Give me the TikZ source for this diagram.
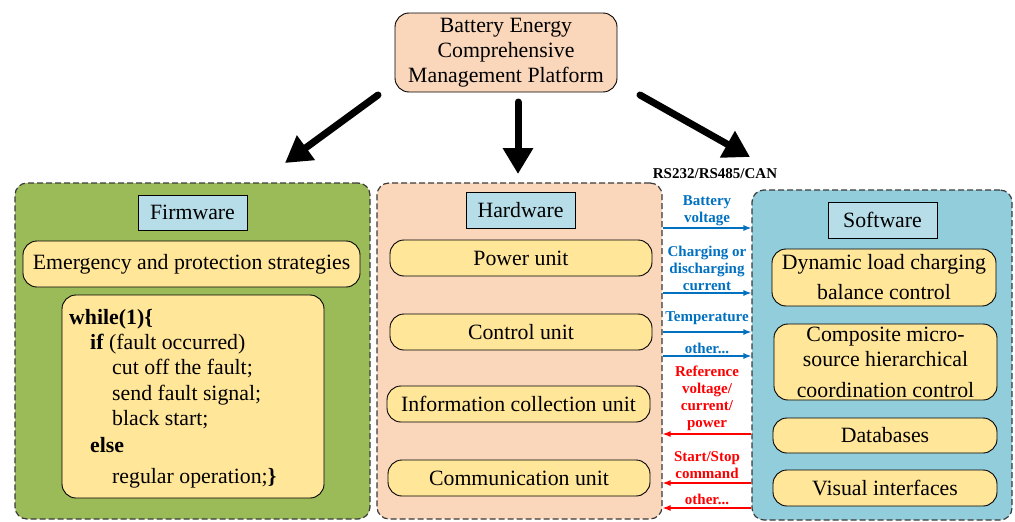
\documentclass[tikz,border=0pt]{standalone}
\usepackage{fontspec}
\setmainfont{Liberation Serif}
\usetikzlibrary{arrows.meta}
\definecolor{peach}{HTML}{FAD6BB}
\definecolor{leaf}{HTML}{9BBB59}
\definecolor{sky}{HTML}{92CDDC}
\definecolor{titlebg}{HTML}{B7DDE8}
\definecolor{unitbg}{HTML}{FFE699}
\definecolor{sigblue}{HTML}{0070C0}
\definecolor{sigred}{HTML}{FF0000}
\definecolor{dashgray}{HTML}{3A3A3A}

\begin{document}
\begin{tikzpicture}[x=1pt,y=-1pt,
  every node/.style={font=\fontsize{21.8}{25}\selectfont},
  panel/.style={draw=dashgray, line width=1.2pt, dash pattern=on 6pt off 3pt,
    rounded corners=12pt, inner sep=0},
  titlebox/.style={draw=black, line width=0.9pt, fill=titlebg,
    minimum width=109pt, minimum height=35pt, inner sep=0},
  unit/.style={draw=black, line width=0.9pt, fill=unitbg, rounded corners=14pt,
    align=center, inner sep=0, minimum height=36pt},
  codeline/.style={anchor=base west, inner sep=0},
  bigarrow/.style={line width=7pt, line cap=round,
    -{Triangle[length=26pt,width=29pt]}},
  siglabel/.style={align=center, inner sep=0,
    font=\bfseries\fontsize{15}{17}\selectfont},
  bluearrow/.style={draw=sigblue, line width=1.2pt, -{Latex[length=8pt,width=6pt]}},
  redarrow/.style={draw=sigred, line width=1.2pt, -{Latex[length=8pt,width=6pt]}}
]
\useasboundingbox (0,0) rectangle (1015,522);

% platform at the top
\node[draw=black, line width=0.9pt, fill=peach, rounded corners=14pt, align=center,
  minimum width=222pt, minimum height=79pt, inner sep=0] (top) at (506,52.5)
  {Battery Energy\\Comprehensive\\Management Platform};

% the three layers
\node[panel, fill=leaf, minimum width=355pt, minimum height=336pt] (fw) at (192.5,351) {};
\node[panel, fill=peach, minimum width=285pt, minimum height=336pt] (hw) at (519.5,351) {};
\node[panel, fill=sky, minimum width=260pt, minimum height=330pt] (sw) at (882,355) {};

% firmware
\node[titlebox] (fwt) at (192.5,212.5) {Firmware};
\node[unit, minimum width=337pt, minimum height=46pt] (eps) at (191.5,264)
  {Emergency and protection strategies};
\node[unit, minimum width=262pt, minimum height=203pt] (code) at (193,396.5) {};
\node[codeline] (c1) at (69,324) {\textbf{while(1)\{}};
\node[codeline] (c2) at (90,349) {\textbf{if} (fault occurred)};
\node[codeline] (c3) at (112,374) {cut off the fault;};
\node[codeline] (c4) at (112,400) {send fault signal;};
\node[codeline] (c5) at (112,425) {black start;};
\node[codeline] (c6) at (90,452) {\textbf{else}};
\node[codeline] (c7) at (112,483) {regular operation;\textbf{\}}};

% hardware
\node[titlebox, minimum height=36pt] (hwt) at (520.5,210) {Hardware};
\node[unit, minimum width=262pt] (pu) at (521,258) {Power unit};
\node[unit, minimum width=262pt] (cu) at (521,332) {Control unit};
\node[unit, minimum width=263pt] (icu) at (518.5,404) {Information collection unit};
\node[unit, minimum width=262pt] (comu) at (519,478) {Communication unit};

% software
\node[titlebox, minimum height=36pt] (swt) at (882.5,220) {Software};
\node[unit, minimum width=224pt, minimum height=57pt] (dlc) at (884,277.5)
  {Dynamic load charging\\[5pt]balance control};
\node[unit, minimum width=223pt, minimum height=76pt] (cmc) at (885.5,362)
  {Composite micro-\\source hierarchical\\[6pt]coordination control};
\node[unit, minimum width=224pt, minimum height=35pt] (db) at (885,435.5) {Databases};
\node[unit, minimum width=224pt] (vi) at (885,488) {Visual interfaces};

% arrows from the platform to the layers
\coordinate (a1s) at (378,95);  \coordinate (a1e) at (285,163);
\coordinate (a2s) at (518,102); \coordinate (a2e) at (518,174);
\coordinate (a3s) at (640,95);  \coordinate (a3e) at (750,157);
\draw[bigarrow] (a1s) -- (a1e);
\draw[bigarrow] (a2s) -- (a2e);
\draw[bigarrow] (a3s) -- (a3e);

\node[siglabel, text=black] (bus) at (715,174) {RS232/RS485/CAN};

% measured signals, hardware to software
\node[siglabel, text=sigblue] (l1) at (707,210.5) {Battery\\voltage};
\node[siglabel, text=sigblue] (l2) at (707,268.5) {Charging or\\discharging\\current};
\node[siglabel, text=sigblue] (l3) at (707,318) {Temperature};
\node[siglabel, text=sigblue] (l4) at (707,348) {other...};
\draw[bluearrow] (hw.east |- 0,228) -- (sw.west |- 0,228);
\draw[bluearrow] (hw.east |- 0,293) -- (sw.west |- 0,293);
\draw[bluearrow] (hw.east |- 0,332) -- (sw.west |- 0,332);
\draw[bluearrow] (hw.east |- 0,356) -- (sw.west |- 0,356);

% commands, software to hardware
\node[siglabel, text=sigred] (r1) at (707,398.5) {Reference\\voltage/\\current/\\power};
\node[siglabel, text=sigred] (r2) at (707,465.5) {Start/Stop\\command};
\node[siglabel, text=sigred] (r3) at (707,499) {other...};
\draw[redarrow] (sw.west |- 0,434) -- (hw.east |- 0,434);
\draw[redarrow] (sw.west |- 0,483) -- (hw.east |- 0,483);
\draw[redarrow] (sw.west |- 0,508) -- (hw.east |- 0,508);
\end{tikzpicture}
\end{document}
